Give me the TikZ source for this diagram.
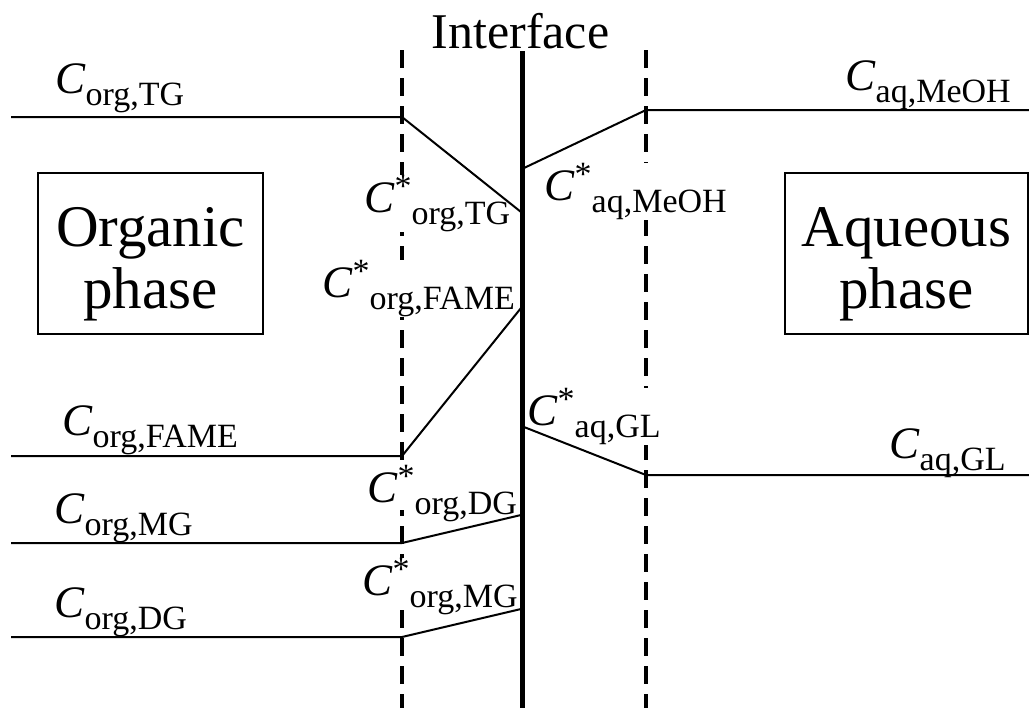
\documentclass[tikz,border=0pt]{standalone}
\usepackage{fontspec}
\setmainfont{Liberation Serif}
% concentration symbols: C with subscript, and C* (interface value) with subscript
\newcommand\subsz{\fontsize{25.5pt}{27pt}\selectfont}
\newcommand\bigC{{\fontsize{33.75pt}{36pt}\selectfont\textit{C}}}
\newcommand\conc[1]{\bigC\raisebox{-9.5pt}{\subsz #1}}
\newcommand\concst[1]{\bigC\raisebox{11pt}{\subsz *}\raisebox{-9.5pt}{\subsz #1}}
\begin{document}
\begin{tikzpicture}[x=0.75pt,y=-0.75pt,
  film/.style={line width=3pt, dash pattern=on 13.5pt off 7.5pt},
  iface/.style={line width=3.5pt},
  profile/.style={line width=1.5pt},
  lbl/.style={anchor=base west, inner sep=0pt},
  starlbl/.style={lbl, fill=white},
  phasebox/.style={draw, line width=1pt, minimum height=120.75pt, inner sep=0pt},
  phasetext/.style={align=center, anchor=north, inner sep=0pt,
    font=\fontsize{44.25pt}{46.5pt}\selectfont}]
\useasboundingbox (0,0) rectangle (1029,708);

% film boundaries
\coordinate (lf-top) at (402,50);  \coordinate (lf-bot) at (402,708);
\coordinate (rf-top) at (646,50);  \coordinate (rf-bot) at (646,708);
\draw[film] (lf-top) -- (lf-bot);
\draw[film] (rf-top) -- (rf-bot);

% interface concentrations (opaque, they hide the film boundaries)
\node[starlbl] (stg)   at (364,212) {\concst{org,TG}};
\node[starlbl] (smeoh) at (544,200) {\concst{aq,MeOH}};
\node[starlbl] (sfame) at (322,297) {\concst{org,FAME}};
\node[starlbl] (sgl)   at (527,425) {\concst{aq,GL}};
\node[starlbl, text depth=6pt] (sdg) at (367,502) {\concst{org,DG}};
\node[starlbl, text depth=6pt] (smg) at (362,595) {\concst{org,MG}};

% interface
\coordinate (if-top) at (522.5,51); \coordinate (if-bot) at (522.5,708);
\draw[iface] (if-top) -- (if-bot);
\node[anchor=base, inner sep=0pt, font=\fontsize{37.5pt}{40pt}\selectfont] (iftitle) at (520.5,48) {Interface};

% profile points
\coordinate (tg0) at (11,117);   \coordinate (tg1) at (402,117);  \coordinate (tg2) at (521,212);
\coordinate (me0) at (524,168);  \coordinate (me1) at (646,110);  \coordinate (me2) at (1029,110);
\coordinate (fa0) at (11,456);   \coordinate (fa1) at (402,456);  \coordinate (fa2) at (521,308);
\coordinate (gl0) at (524,427);  \coordinate (gl1) at (646,475);  \coordinate (gl2) at (1029,475);
\coordinate (mg0) at (11,543);   \coordinate (mg1) at (402,543);  \coordinate (mg2) at (521,515);
\coordinate (dg0) at (11,637);   \coordinate (dg1) at (402,637);  \coordinate (dg2) at (521,609);

\draw[profile] (tg0) -- (tg1) -- (tg2);
\draw[profile] (me0) -- (me1) -- (me2);
\draw[profile] (fa0) -- (fa1) -- (fa2);
\draw[profile] (gl0) -- (gl1) -- (gl2);
\draw[profile] (mg0) -- (mg1) -- (mg2);
\draw[profile] (dg0) -- (dg1) -- (dg2);

% phase boxes
\node[phasebox, minimum width=168.75pt] (orgbox) at (150.5,253.5) {};
\node[phasetext] (orgtxt) at (150.5,207) {Organic\\phase};
\node[phasebox, minimum width=182.25pt] (aqbox) at (906.5,253.5) {};
\node[phasetext] (aqtxt) at (906.5,207) {Aqueous\\phase};

% bulk concentrations
\node[lbl] (ctg)   at (55,93)   {\conc{org,TG}};
\node[lbl] (cmeoh) at (845,90)  {\conc{aq,MeOH}};
\node[lbl] (cfame) at (62,435)  {\conc{org,FAME}};
\node[lbl] (cgl)   at (889,458) {\conc{aq,GL}};
\node[lbl] (cmg)   at (54,523)  {\conc{org,MG}};
\node[lbl] (cdg)   at (54,617)  {\conc{org,DG}};
\end{tikzpicture}
\end{document}
